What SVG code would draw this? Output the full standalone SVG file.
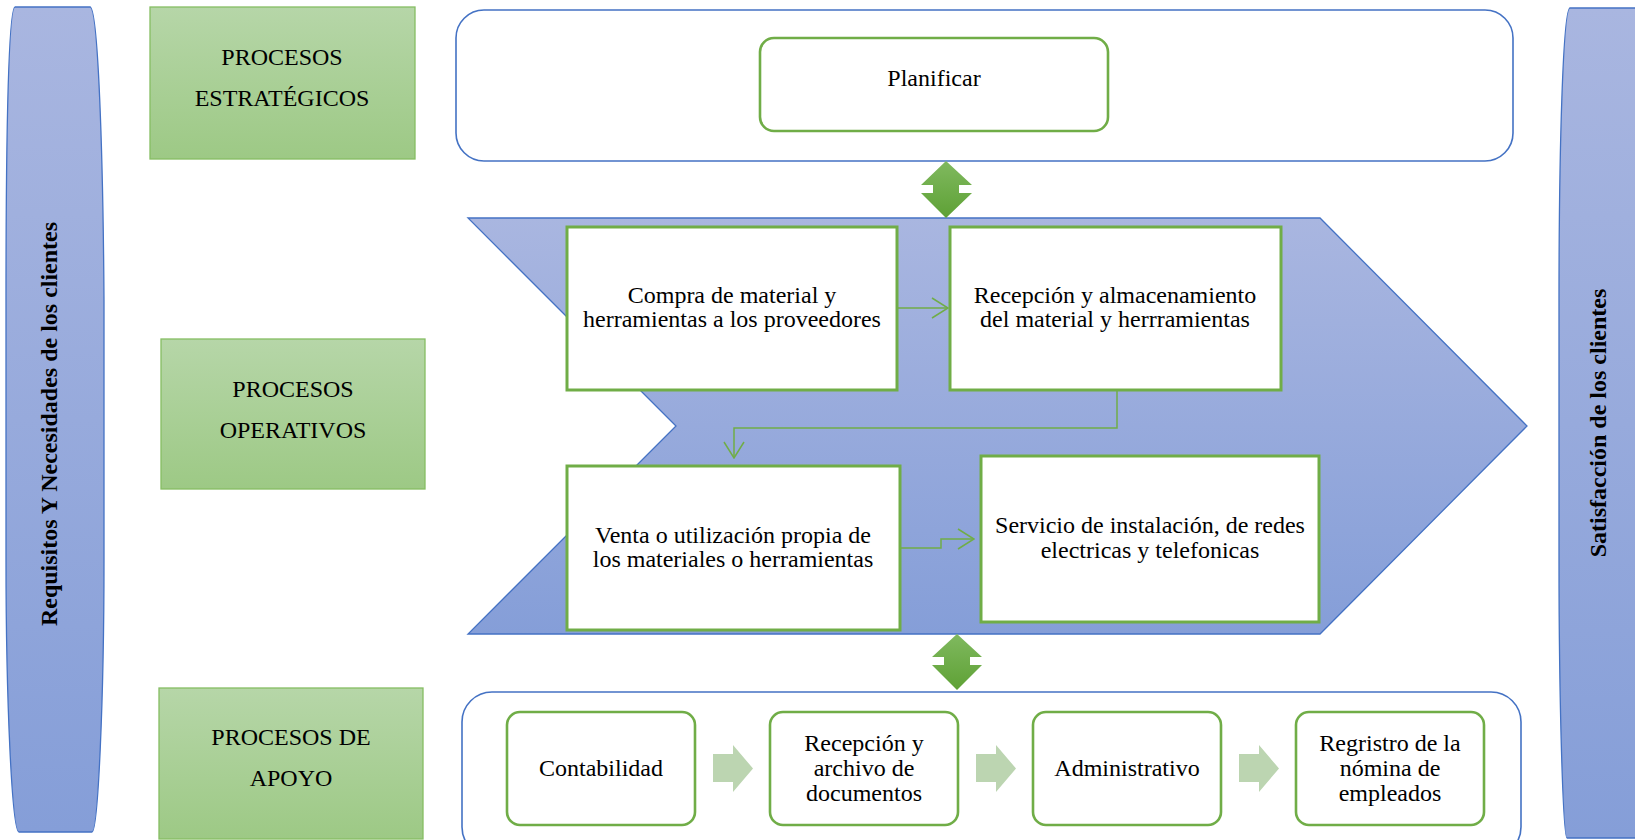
<svg xmlns="http://www.w3.org/2000/svg" width="1635" height="840" viewBox="0 0 1635 840">
<defs>
<linearGradient id="gBlue" x1="0" y1="0" x2="0" y2="1"><stop offset="0" stop-color="#A9B6E0"/><stop offset="1" stop-color="#859ED8"/></linearGradient>
<linearGradient id="gGreenLbl" x1="0" y1="0" x2="0" y2="1"><stop offset="0" stop-color="#B6D6A8"/><stop offset="1" stop-color="#9DC985"/></linearGradient>
<linearGradient id="gDbl" x1="0" y1="0" x2="0" y2="1"><stop offset="0" stop-color="#80B95F"/><stop offset="1" stop-color="#5EA135"/></linearGradient>
<marker id="arr" viewBox="0 0 18 22" refX="17" refY="11" markerWidth="18" markerHeight="22" markerUnits="userSpaceOnUse" orient="auto">
<path d="M1,1 L17,11 L1,21" fill="none" stroke="#70AD47" stroke-width="1.5"/>
</marker>
<style>
.t{font-family:"Liberation Serif","Times New Roman",serif;font-size:24px;fill:#000;text-anchor:middle}
.tb{font-family:"Liberation Serif","Times New Roman",serif;font-size:24px;font-weight:bold;fill:#000;text-anchor:middle}
.banner{fill:url(#gBlue);stroke:#4472C4;stroke-width:1.3}
.lbl{fill:url(#gGreenLbl);stroke:#86BD63;stroke-width:1.3}
.cont{fill:#fff;stroke:#4472C4;stroke-width:1.6}
.box{fill:#fff;stroke:#70AD47;stroke-width:3}
.rbox{fill:#fff;stroke:#70AD47;stroke-width:2.6}
.dbl{fill:url(#gDbl)}
.blk{fill:#BCD5B1}
.conn{fill:none;stroke:#70AD47;stroke-width:1.5}
</style>
</defs>

<g id="banner-left">
<path class="banner" d="M15,7 L90,7 C98,7 103,150 104,300 L104,560 C104,700 98,832 92,832 L19,832 C12,832 6,700 6,560 L6,300 C6,150 8,7 15,7 Z"/>
<text class="tb" transform="translate(57,424) rotate(-90)">Requisitos Y Necesidades de los clientes</text>
</g>

<g id="banner-right">
<path class="banner" d="M1570,8 L1660,8 L1660,838 L1567,838 C1563,838 1559,700 1559,560 L1559,300 C1559,150 1563,8 1570,8 Z"/>
<text class="tb" transform="translate(1606,423) rotate(-90)">Satisfacción de los clientes</text>
</g>

<g id="lbl-estrategicos">
<rect class="lbl" x="150" y="7" width="265" height="152"/>
<text class="t" x="282" y="65">PROCESOS</text>
<text class="t" x="282" y="106">ESTRATÉGICOS</text>
</g>

<g id="lbl-operativos">
<rect class="lbl" x="161" y="339" width="264" height="150"/>
<text class="t" x="293" y="397">PROCESOS</text>
<text class="t" x="293" y="438">OPERATIVOS</text>
</g>

<g id="lbl-apoyo">
<rect class="lbl" x="159" y="688" width="264" height="151"/>
<text class="t" x="291" y="745">PROCESOS DE</text>
<text class="t" x="291" y="786">APOYO</text>
</g>

<g id="cont-estrategicos">
<rect class="cont" x="456" y="10" width="1057" height="151" rx="28" ry="28"/>
</g>

<g id="planificar">
<rect class="rbox" x="760" y="38" width="348" height="93" rx="14" ry="14"/>
<text class="t" x="934" y="86">Planificar</text>
</g>

<g id="chevron-operativos">
<polygon points="468,218 1320,218 1527,426 1320,634 468,634 676,426" fill="url(#gBlue)" stroke="#4472C4" stroke-width="1.3"/>
</g>

<g id="cont-apoyo">
<rect class="cont" x="462" y="692" width="1059" height="165" rx="30" ry="30"/>
</g>

<g id="dbl-arrow-1">
<polygon class="dbl" points="946,161 972,185 959,185 959,193 972,193 946,218 921,193 933,193 933,185 921,185"/>
</g>
<g id="dbl-arrow-2">
<polygon class="dbl" points="957,634 982,657 970,657 970,665 982,665 957,690 932,665 944,665 944,657 932,657"/>
</g>

<g id="connectors">
<path class="conn" d="M897,308 H948" marker-end="url(#arr)"/>
<path class="conn" d="M1117,391 V428 H734 V458" marker-end="url(#arr)"/>
<path class="conn" d="M900,548 H941 V539 H974" marker-end="url(#arr)"/>
<polygon class="blk" points="713,754 733,754 733,745 753,768.5 733,792 733,782 713,782"/>
<polygon class="blk" points="976,754 996,754 996,745 1016,768.5 996,792 996,782 976,782"/>
<polygon class="blk" points="1239,754 1259,754 1259,745 1279,768.5 1259,792 1259,782 1239,782"/>
</g>

<g id="compra">
<rect class="box" x="567" y="227" width="330" height="163"/>
<text class="t" x="732" y="303">Compra de material y</text>
<text class="t" x="732" y="327">herramientas a los proveedores</text>
</g>

<g id="recepcion">
<rect class="box" x="950" y="227" width="331" height="163"/>
<text class="t" x="1115" y="303">Recepción y almacenamiento</text>
<text class="t" x="1115" y="327">del material y herrramientas</text>
</g>

<g id="venta">
<rect class="box" x="567" y="466" width="333" height="164"/>
<text class="t" x="733" y="543">Venta o utilización propia de</text>
<text class="t" x="733" y="567">los materiales o herramientas</text>
</g>

<g id="servicio">
<rect class="box" x="981" y="456" width="338" height="166"/>
<text class="t" x="1150" y="533">Servicio de instalación, de redes</text>
<text class="t" x="1150" y="558">electricas y telefonicas</text>
</g>

<g id="contabilidad">
<rect class="rbox" x="507" y="712" width="188" height="113" rx="13" ry="13"/>
<text class="t" x="601" y="776">Contabilidad</text>
</g>

<g id="recepcion-archivo">
<rect class="rbox" x="770" y="712" width="188" height="113" rx="13" ry="13"/>
<text class="t" x="864" y="751">Recepción y</text>
<text class="t" x="864" y="776">archivo de</text>
<text class="t" x="864" y="801">documentos</text>
</g>

<g id="administrativo">
<rect class="rbox" x="1033" y="712" width="188" height="113" rx="13" ry="13"/>
<text class="t" x="1127" y="776">Administrativo</text>
</g>

<g id="registro-nomina">
<rect class="rbox" x="1296" y="712" width="188" height="113" rx="13" ry="13"/>
<text class="t" x="1390" y="751">Regristro de la</text>
<text class="t" x="1390" y="776">nómina de</text>
<text class="t" x="1390" y="801">empleados</text>
</g>
</svg>
